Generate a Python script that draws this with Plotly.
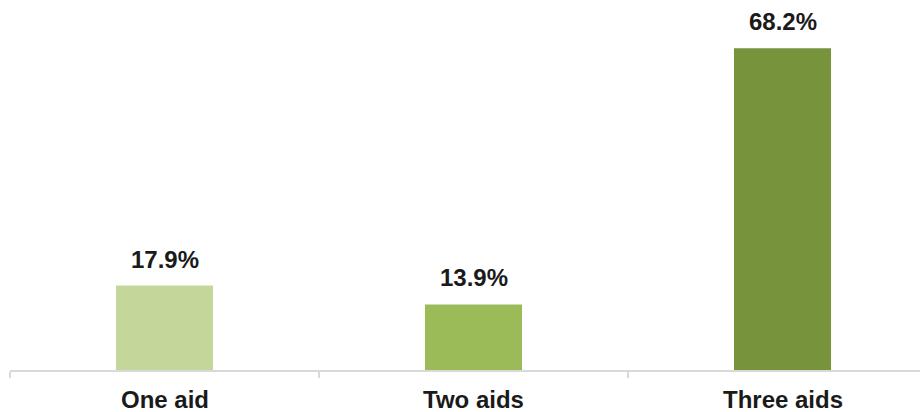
import plotly.graph_objects as go

categories = ["One aid", "Two aids", "Three aids"]
values = [17.9, 13.9, 68.2]
labels = ["17.9%", "13.9%", "68.2%"]
colors = ["#c4d79b", "#9bbb59", "#77933c"]

FONT = "Liberation Sans, Arial, sans-serif"

fig = go.Figure()
fig.add_trace(go.Bar(x=categories, y=values, marker=dict(color=colors, line=dict(width=0)),
                     width=0.314, hoverinfo="skip"))

for c, v, t in zip(categories, values, labels):
    fig.add_annotation(x=c, y=v, text=f"<b>{t}</b>", showarrow=False, yanchor="bottom",
                       yshift=11, font=dict(family=FONT, size=24, color="#1a1a1a"))

for c in categories:
    fig.add_annotation(x=c, y=0, yref="paper", text=f"<b>{c}</b>", showarrow=False,
                       yanchor="top", yshift=-14,
                       font=dict(family=FONT, size=24, color="#1a1a1a"))

fig.update_layout(
    width=920, height=412,
    margin=dict(l=10, r=0, t=0, b=42, autoexpand=False),
    paper_bgcolor="white", plot_bgcolor="white",
    showlegend=False,
    xaxis=dict(
        range=[-0.5, 2.445], showgrid=False, zeroline=False, automargin=False,
        showline=True, linecolor="#d9d9d9", linewidth=2,
        ticks="outside", ticklen=6, tickcolor="#d9d9d9", tickwidth=2,
        tickson="boundaries", showticklabels=False,
        tickvals=categories,
    ),
    yaxis=dict(range=[0, 78.4], visible=False, showgrid=False, zeroline=False, automargin=False),
)

fig.write_html("out.html", config={"displayModeBar": False},
               post_script="document.body.style.margin='0';document.body.style.overflow='hidden';")
